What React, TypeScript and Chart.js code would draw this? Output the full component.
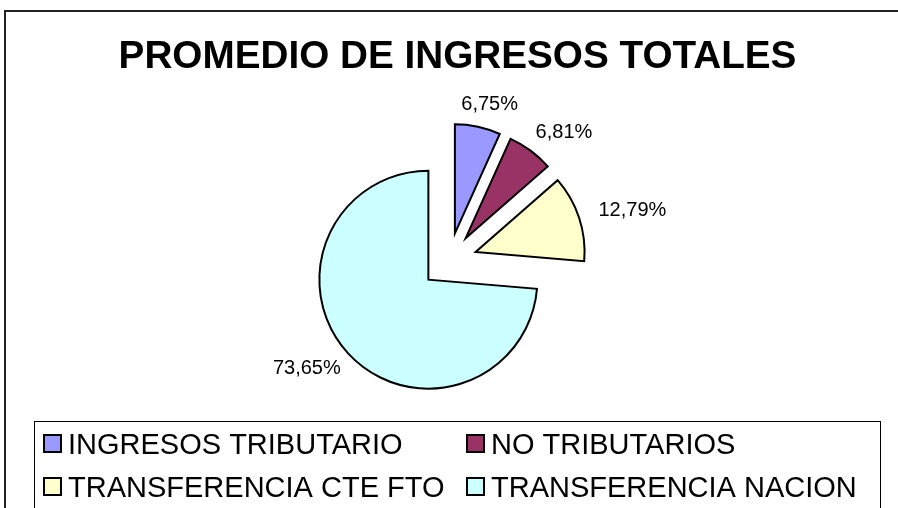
import React, { useEffect, useRef } from 'react';
import { Chart, registerables } from 'chart.js';

Chart.register(...registerables);

// ---- data ----
const TITLE = 'PROMEDIO DE INGRESOS TOTALES';
const categories = ['INGRESOS TRIBUTARIO', 'NO TRIBUTARIOS', 'TRANSFERENCIA CTE FTO', 'TRANSFERENCIA NACION'];
const shares = [6.75, 6.81, 12.79, 73.65];
const colors = ['#9999FF', '#993366', '#FFFFCC', '#CCFFFF'];

// ---- style ----
const FONT = '"Liberation Sans", Arial, Helvetica, sans-serif';
const EXPLODE = 28; // px each slice is pulled out
const RADIUS = 109;

const fmt = (v: number) => v.toFixed(2).replace('.', ',') + '%';

// draws each arc element pulled out along its mid angle (Excel-style explode)
const explodePlugin = {
  id: 'explode',
  beforeDatasetsDraw(chart: any) {
    const ctx = chart.ctx as CanvasRenderingContext2D;
    const meta = chart.getDatasetMeta(0);
    meta.data.forEach((el: any) => {
      const p = el.getProps(['startAngle', 'endAngle'], true);
      const mid = (p.startAngle + p.endAngle) / 2;
      ctx.save();
      ctx.translate(Math.cos(mid) * EXPLODE, Math.sin(mid) * EXPLODE);
      el.draw(ctx, chart.chartArea);
      ctx.restore();
    });
    return false;
  },
};

const decorPlugin = {
  id: 'decor',
  beforeDraw(chart: any) {
    const ctx = chart.ctx as CanvasRenderingContext2D;
    ctx.save();
    ctx.fillStyle = '#ffffff';
    ctx.fillRect(0, 0, chart.width, chart.height);
    ctx.strokeStyle = '#222222';
    ctx.lineWidth = 2;
    ctx.strokeRect(5, 11, chart.width + 40, chart.height + 40);
    ctx.restore();
  },
  afterDraw(chart: any) {
    const ctx = chart.ctx as CanvasRenderingContext2D;
    ctx.save();
    // title
    ctx.fillStyle = '#000';
    ctx.font = `bold 38.7px ${FONT}`;
    ctx.textAlign = 'center';
    ctx.textBaseline = 'alphabetic';
    ctx.fillText(TITLE, 457.5, 68);

    // data labels
    const meta = chart.getDatasetMeta(0);
    const values = chart.data.datasets[0].data as number[];
    ctx.font = `20px ${FONT}`;
    ctx.textAlign = 'center';
    ctx.textBaseline = 'middle';
    meta.data.forEach((el: any, i: number) => {
      const p = el.getProps(['x', 'y', 'startAngle', 'endAngle', 'outerRadius'], true);
      const mid = (p.startAngle + p.endAngle) / 2;
      const rOut = p.outerRadius + EXPLODE;
      const lx = p.x + Math.cos(mid) * (rOut + 56);
      const ly = p.y + Math.sin(mid) * (rOut + 23);
      ctx.fillText(fmt(values[i]), lx, ly);
    });

    // legend box
    ctx.strokeStyle = '#000';
    ctx.lineWidth = 1;
    ctx.strokeRect(34.5, 421.5, 846, 200);
    const colX = [44, 467];
    const rowBase = [454, 497];
    ctx.font = `29px ${FONT}`;
    ctx.textAlign = 'left';
    ctx.textBaseline = 'alphabetic';
    const labels = chart.data.labels as string[];
    const bg = chart.data.datasets[0].backgroundColor as string[];
    labels.forEach((lab, i) => {
      const cx = colX[i % 2];
      const by = rowBase[Math.floor(i / 2)];
      ctx.fillStyle = bg[i];
      ctx.fillRect(cx, by - 19, 17, 17);
      ctx.lineWidth = 2;
      ctx.strokeStyle = '#000';
      ctx.strokeRect(cx, by - 19, 17, 17);
      ctx.fillStyle = '#000';
      ctx.fillText(lab, cx + 24, by);
    });
    ctx.restore();
  },
};

export default function App() {
  const ref = useRef<HTMLCanvasElement | null>(null);
  useEffect(() => {
    document.body.style.margin = '0';
    const canvas = ref.current;
    if (!canvas) return;
    const chart = new Chart(canvas, {
      type: 'pie',
      data: {
        labels: categories,
        datasets: [
          {
            data: shares,
            backgroundColor: colors,
            borderColor: '#000000',
            borderWidth: 2,
            borderJoinStyle: 'miter',
            hoverOffset: 0,
            offset: 0,
          } as any,
        ],
      },
      options: {
        responsive: false,
        animation: false,
        devicePixelRatio: 1,
        radius: RADIUS,
        layout: { padding: { left: 0, right: 0, top: 100, bottom: 86.6 } },
        plugins: {
          legend: { display: false },
          title: { display: false },
          tooltip: { enabled: false },
        },
        events: [],
      } as any,
      plugins: [explodePlugin, decorPlugin],
    });
    return () => chart.destroy();
  }, []);
  return (
    <div style={{ width: 898, height: 508, overflow: 'hidden' }}>
      <canvas ref={ref} width={898} height={508} style={{ display: 'block', width: 898, height: 508 }} />
    </div>
  );
}
